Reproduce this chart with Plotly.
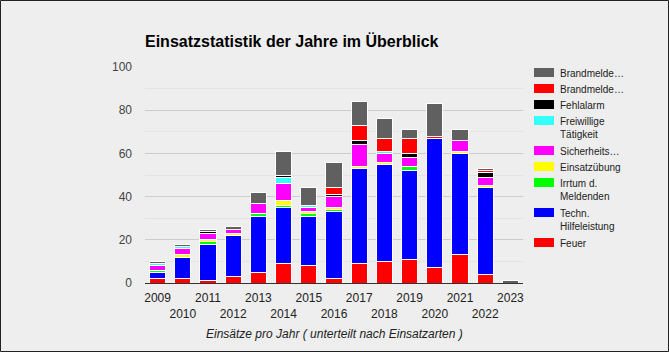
import plotly.graph_objects as go

years = ["2009", "2010", "2011", "2012", "2013", "2014", "2015", "2016",
         "2017", "2018", "2019", "2020", "2021", "2022", "2023"]

feuer    = [2, 2, 1, 3, 5, 9, 8, 2, 9, 10, 11, 7, 13, 4, 0]
techn    = [3, 10, 17, 19, 26, 26, 23, 31, 44, 45, 41, 60, 47, 40, 0]
irrtum   = [1, 0, 1, 0, 1, 1, 1, 1, 0, 0, 2, 0, 0, 0, 0]
uebung   = [0, 1, 1, 1, 0, 2, 1, 1, 1, 1, 0, 0, 1, 1, 0]
sicher   = [2, 3, 3, 2, 5, 8, 2, 5, 10, 4, 4, 0, 5, 4, 0]
frei     = [1, 1, 0, 0, 0, 3, 1, 0, 0, 1, 0, 0, 0, 0, 0]
fehl     = [0, 0, 1, 0, 0, 1, 0, 1, 2, 0, 2, 0, 0, 2, 0]
bma_red  = [0, 0, 0, 0, 0, 0, 0, 3, 7, 6, 7, 1, 0, 1, 0]
bma_gray = [1, 1, 1, 1, 5, 11, 8, 12, 11, 9, 4, 15, 5, 1, 1]

series = [
    ("Feuer", feuer, "#ff0000"),
    ("Techn.<br>Hilfeleistung", techn, "#0000ff"),
    ("Irrtum d.<br>Meldenden", irrtum, "#00ff00"),
    ("Einsatzübung", uebung, "#ffff00"),
    ("Sicherheits…", sicher, "#ff00ff"),
    ("Freiwillige<br>Tätigkeit", frei, "#33ffff"),
    ("Fehlalarm", fehl, "#000000"),
    ("Brandmelde…", bma_red, "#ff0000"),
    ("Brandmelde…", bma_gray, "#606060"),
]

tick_text = [y if i % 2 == 0 else "<br>" + y for i, y in enumerate(years)]

FONT = "Liberation Sans, Arial, sans-serif"
W, H = 669, 352
ML, MR, MT, MB = 145, 146, 67, 69
PW, PH = W - ML - MR, H - MT - MB


def px_x(px):
    return (px - ML) / PW


def px_y(py):
    return (H - MB - py) / PH


fig = go.Figure()
for name, vals, col in series:
    fig.add_trace(go.Bar(
        x=years, y=vals, name=name, showlegend=False,
        marker=dict(color=col, line=dict(color="#ffffff", width=1)),
    ))

fig.update_layout(
    width=W, height=H,
    margin=dict(l=ML, r=MR, t=MT, b=MB, pad=0),
    paper_bgcolor="#eeeeee", plot_bgcolor="#eeeeee",
    barmode="stack", bargap=0.36,
    font=dict(family=FONT, size=12, color="#222222"),
    title=dict(text="<b>Einsatzstatistik der Jahre im Überblick</b>",
               font=dict(family=FONT, size=16, color="#000000"),
               x=0, xref="paper", xanchor="left",
               y=1 - 41.5 / H, yref="container", yanchor="middle"),
    showlegend=False,
)

fig.update_xaxes(
    type="category", tickvals=years, ticktext=tick_text, tickangle=0,
    range=[-0.5, 14.5], showgrid=False,
    showline=True, linecolor="#333333", linewidth=1,
    tickfont=dict(family=FONT, size=12, color="#222222"),
    ticks="", ticklabelstandoff=4,
)
fig.update_yaxes(
    range=[0, 100], tickvals=[0, 20, 40, 60, 80, 100],
    showgrid=True, gridcolor="#cccccc", gridwidth=1,
    minor=dict(dtick=10, showgrid=True, gridcolor="#e3e3e3", gridwidth=1),
    zeroline=False,
    tickfont=dict(family=FONT, size=12, color="#444444"),
    ticks="", ticklabelstandoff=12,
)

fig.add_annotation(
    text="<i>Einsätze pro Jahr ( unterteilt nach Einsatzarten )</i>",
    xref="paper", yref="paper", x=0.5, y=px_y(334),
    xanchor="center", yanchor="middle", showarrow=False,
    font=dict(family=FONT, size=12, color="#222222"),
)

# custom legend (reversed order: top series first)
legend_y = 68
for name, vals, col in reversed(series):
    nlines = name.count("<br>") + 1
    fig.add_shape(
        type="rect", xref="paper", yref="paper",
        x0=px_x(534), x1=px_x(554), y0=px_y(legend_y), y1=px_y(legend_y + 9),
        line=dict(width=0), fillcolor=col, layer="above",
    )
    fig.add_annotation(
        text=name, xref="paper", yref="paper",
        x=px_x(558), y=px_y(legend_y + 4.5 - 6.5 - 1 + 1),
        xanchor="left", yanchor="top", align="left", showarrow=False,
        font=dict(family=FONT, size=10, color="#222222"),
    )
    legend_y += 16 + 13 * (nlines - 1) + (1 if nlines > 1 else 0)

# outer border
fig.add_shape(
    type="rect", xref="paper", yref="paper",
    x0=px_x(0.5), x1=px_x(W - 0.5),
    y0=px_y(H - 0.5), y1=px_y(0.5),
    line=dict(color="#222222", width=1), fillcolor="rgba(0,0,0,0)",
    layer="above",
)

fig.write_html("out.html")
